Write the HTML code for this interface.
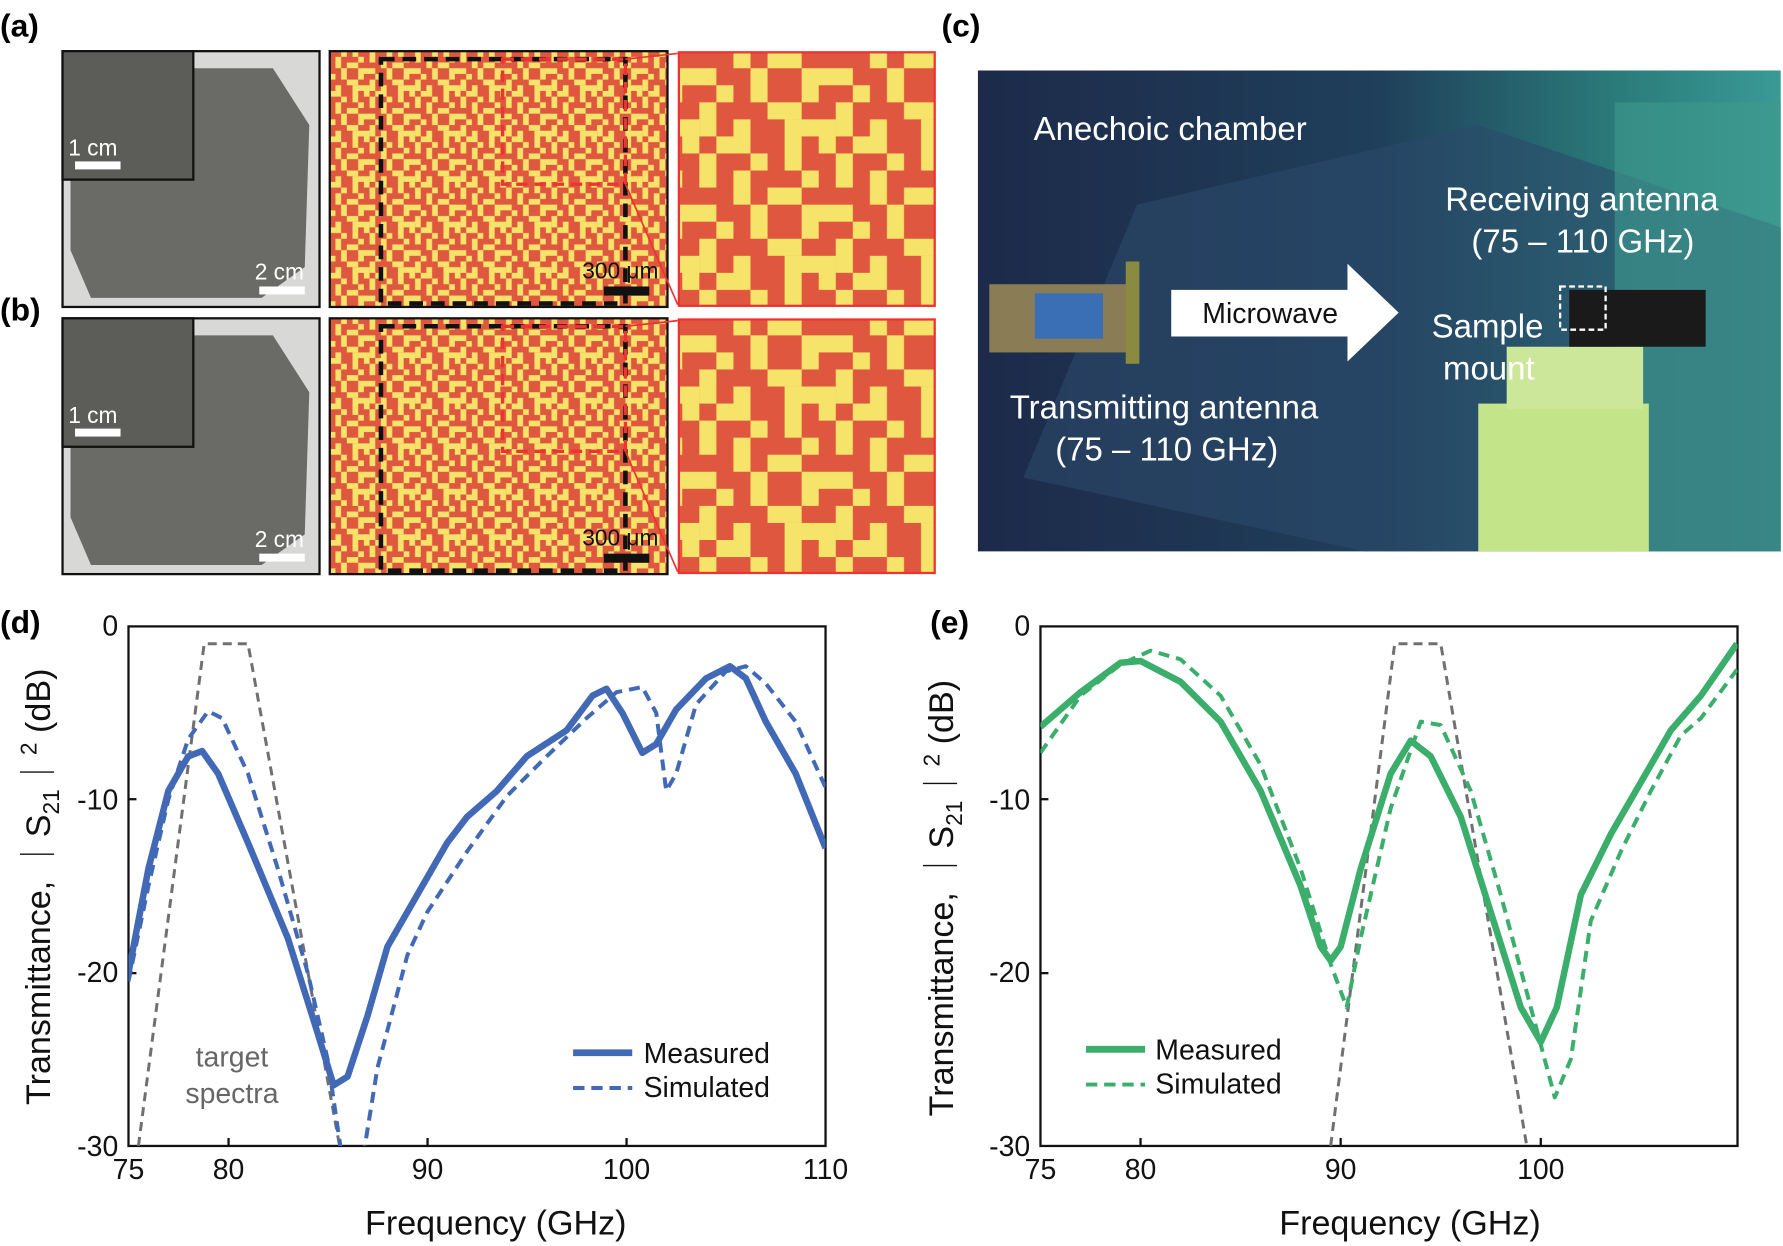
<!DOCTYPE html>
<html><head><meta charset="utf-8"><style>
html,body{margin:0;padding:0;background:#fff}
svg{display:block}
text{font-family:"Liberation Sans",sans-serif}
</style></head><body>
<svg width="1783" height="1246" viewBox="0 0 1568 1096" preserveAspectRatio="none" xmlns="http://www.w3.org/2000/svg">
<defs>
<pattern id="pm" width="40" height="40" patternUnits="userSpaceOnUse">
<rect width="40" height="40" fill="#e0573f"/>
<rect x="0" y="0" width="5" height="5" fill="#f6e46a"/><rect x="10" y="0" width="10" height="5" fill="#f6e46a"/><rect x="30" y="0" width="5" height="10" fill="#f6e46a"/>
<rect x="5" y="5" width="5" height="10" fill="#f6e46a"/><rect x="20" y="5" width="5" height="5" fill="#f6e46a"/><rect x="35" y="10" width="5" height="5" fill="#f6e46a"/>
<rect x="15" y="10" width="5" height="10" fill="#f6e46a"/><rect x="25" y="15" width="10" height="5" fill="#f6e46a"/><rect x="0" y="20" width="10" height="5" fill="#f6e46a"/>
<rect x="20" y="20" width="5" height="10" fill="#f6e46a"/><rect x="35" y="20" width="5" height="10" fill="#f6e46a"/><rect x="10" y="25" width="5" height="5" fill="#f6e46a"/>
<rect x="5" y="30" width="5" height="10" fill="#f6e46a"/><rect x="25" y="30" width="10" height="5" fill="#f6e46a"/><rect x="15" y="35" width="5" height="5" fill="#f6e46a"/>
<rect x="30" y="35" width="10" height="5" fill="#f6e46a"/><rect x="0" y="35" width="5" height="5" fill="#f6e46a"/>
</pattern>
<pattern id="pz" width="120" height="120" patternUnits="userSpaceOnUse">
<rect width="120" height="120" fill="#e0573f"/>
<rect x="0" y="0" width="15" height="15" fill="#f6e46a"/><rect x="30" y="0" width="30" height="15" fill="#f6e46a"/><rect x="90" y="0" width="15" height="30" fill="#f6e46a"/>
<rect x="15" y="15" width="15" height="30" fill="#f6e46a"/><rect x="60" y="15" width="15" height="15" fill="#f6e46a"/><rect x="105" y="30" width="15" height="15" fill="#f6e46a"/>
<rect x="45" y="30" width="15" height="30" fill="#f6e46a"/><rect x="75" y="45" width="30" height="15" fill="#f6e46a"/><rect x="0" y="60" width="30" height="15" fill="#f6e46a"/>
<rect x="60" y="60" width="15" height="30" fill="#f6e46a"/><rect x="105" y="60" width="15" height="30" fill="#f6e46a"/><rect x="30" y="75" width="15" height="15" fill="#f6e46a"/>
<rect x="15" y="90" width="15" height="30" fill="#f6e46a"/><rect x="75" y="90" width="30" height="15" fill="#f6e46a"/><rect x="45" y="105" width="15" height="15" fill="#f6e46a"/>
<rect x="90" y="105" width="30" height="15" fill="#f6e46a"/><rect x="0" y="105" width="15" height="15" fill="#f6e46a"/>
</pattern>
<linearGradient id="ch" x1="0" y1="0" x2="1" y2="0">
<stop offset="0" stop-color="#1d2a4a"/><stop offset="0.5" stop-color="#1f3f5a"/><stop offset="0.8" stop-color="#2a7c7a"/><stop offset="1" stop-color="#3a9a96"/>
</linearGradient>
<clipPath id="cd"><rect x="113" y="551" width="613" height="457"/></clipPath>
<clipPath id="ce"><rect x="915" y="551" width="613" height="457"/></clipPath>
</defs>

<g font-weight="bold" font-size="28">
<text x="0" y="32">(a)</text><text x="0" y="282">(b)</text><text x="828" y="32">(c)</text>
<text x="0" y="557">(d)</text><text x="818" y="557">(e)</text>
</g>

<g>
<rect x="55" y="45" width="226" height="225" fill="#d8d8d6" stroke="#111" stroke-width="2"/>
<polygon points="90,60 240,60 272,110 268,235 230,262 80,262 62,220 62,100" fill="#6a6a66"/>
<rect x="55" y="45" width="115" height="113" fill="#5c5c58" stroke="#111" stroke-width="2"/>
<rect x="66" y="142" width="40" height="7" fill="#fff"/><text x="60" y="137" font-size="20" fill="#fff">1 cm</text>
<rect x="228" y="252" width="40" height="7" fill="#fff"/><text x="224" y="246" font-size="20" fill="#fff">2 cm</text>
<rect x="290" y="45" width="297" height="225" fill="url(#pm)" stroke="#111" stroke-width="2"/>
<rect x="335" y="52" width="215" height="215" fill="none" stroke="#111" stroke-width="4" stroke-dasharray="12,7"/>
<rect x="442" y="52" width="108" height="110" fill="none" stroke="#e33" stroke-width="3" stroke-dasharray="10,6"/>
<rect x="531" y="252" width="40" height="8" fill="#111"/><text x="512" y="245" font-size="20" fill="#111">300 μm</text>
<line x1="550" y1="52" x2="596" y2="47" stroke="#e33" stroke-width="1.5"/><line x1="550" y1="162" x2="596" y2="268" stroke="#e33" stroke-width="1.5"/>
<rect x="597" y="46" width="225" height="223" fill="url(#pz)" stroke="#e33" stroke-width="2"/>
</g>
<g transform="translate(0,235)">
<rect x="55" y="45" width="226" height="225" fill="#d8d8d6" stroke="#111" stroke-width="2"/>
<polygon points="90,60 240,60 272,110 268,235 230,262 80,262 62,220 62,100" fill="#6a6a66"/>
<rect x="55" y="45" width="115" height="113" fill="#5c5c58" stroke="#111" stroke-width="2"/>
<rect x="66" y="142" width="40" height="7" fill="#fff"/><text x="60" y="137" font-size="20" fill="#fff">1 cm</text>
<rect x="228" y="252" width="40" height="7" fill="#fff"/><text x="224" y="246" font-size="20" fill="#fff">2 cm</text>
<rect x="290" y="45" width="297" height="225" fill="url(#pm)" stroke="#111" stroke-width="2"/>
<rect x="335" y="52" width="215" height="215" fill="none" stroke="#111" stroke-width="4" stroke-dasharray="12,7"/>
<rect x="442" y="52" width="108" height="110" fill="none" stroke="#e33" stroke-width="3" stroke-dasharray="10,6"/>
<rect x="531" y="252" width="40" height="8" fill="#111"/><text x="512" y="245" font-size="20" fill="#111">300 μm</text>
<line x1="550" y1="52" x2="596" y2="47" stroke="#e33" stroke-width="1.5"/><line x1="550" y1="162" x2="596" y2="268" stroke="#e33" stroke-width="1.5"/>
<rect x="597" y="46" width="225" height="223" fill="url(#pz)" stroke="#e33" stroke-width="2"/>
</g>

<rect x="860" y="62" width="706" height="423" fill="url(#ch)"/>
<polygon points="1000,180 1300,110 1566,200 1566,485 1200,485 900,420" fill="#2c4a6a" opacity="0.6"/>
<rect x="1420" y="90" width="146" height="395" fill="#3f9a8e" opacity="0.6"/>
<rect x="870" y="250" width="130" height="60" fill="#8a7d55"/><rect x="910" y="258" width="60" height="40" fill="#3a6fb5"/>
<rect x="990" y="230" width="12" height="90" fill="#8a8a40"/>
<rect x="1300" y="355" width="150" height="130" fill="#c4e48a"/><rect x="1325" y="305" width="120" height="55" fill="#cde79a"/>
<rect x="1380" y="255" width="120" height="50" fill="#1a1a1a"/>
<rect x="1372" y="252" width="40" height="38" fill="none" stroke="#fff" stroke-width="2" stroke-dasharray="5,3"/>
<polygon points="1030,255 1185,255 1185,232 1230,275 1185,318 1185,296 1030,296" fill="#fff"/>
<text x="1117" y="284" font-size="25" fill="#111" text-anchor="middle">Microwave</text>
<g font-size="29" fill="#fff">
<text x="909" y="123">Anechoic chamber</text>
<text x="1271" y="185">Receiving antenna</text>
<text x="1294" y="222">(75 – 110 GHz)</text>
<text x="1259" y="297">Sample</text><text x="1269" y="334">mount</text>
<text x="888" y="368">Transmitting antenna</text>
<text x="928" y="405">(75 – 110 GHz)</text>
</g>

<g font-size="25" fill="#111">
<rect x="113" y="551" width="613" height="457" fill="none" stroke="#111" stroke-width="2"/>
<g stroke="#111" stroke-width="2"><line x1="113" y1="703" x2="120" y2="703"/><line x1="113" y1="856" x2="120" y2="856"/>
<line x1="201" y1="1008" x2="201" y2="1001"/><line x1="376" y1="1008" x2="376" y2="1001"/><line x1="551" y1="1008" x2="551" y2="1001"/></g>
<g text-anchor="end"><text x="104" y="559">0</text><text x="104" y="712">-10</text><text x="104" y="864">-20</text><text x="104" y="1017">-30</text></g>
<g text-anchor="middle"><text x="113" y="1037">75</text><text x="201" y="1037">80</text><text x="376" y="1037">90</text><text x="551" y="1037">100</text><text x="726" y="1037">110</text></g>
<text x="436" y="1086" font-size="30" text-anchor="middle">Frequency (GHz)</text>
<text transform="translate(44,780) rotate(-90)" font-size="30" text-anchor="middle">Transmittance, ｜S<tspan font-size="20" dy="8">21</tspan><tspan dy="-8">｜</tspan><tspan font-size="20" dy="-12">2</tspan><tspan dy="12"> (dB)</tspan></text>
<text x="204" y="938" fill="#666" text-anchor="middle">target</text><text x="204" y="970" fill="#666" text-anchor="middle">spectra</text>
<line x1="504" y1="926" x2="556" y2="926" stroke="#4169b5" stroke-width="6"/><text x="566" y="935">Measured</text>
<line x1="504" y1="957" x2="556" y2="957" stroke="#4169b5" stroke-width="3.5" stroke-dasharray="10,6"/><text x="566" y="965">Simulated</text>
</g>
<g clip-path="url(#cd)">
<g transform="translate(-1200.55,551) scale(17.514,15.23)" fill="none" stroke-linejoin="round">
<polyline vector-effect="non-scaling-stroke" stroke="#707070" stroke-width="3" stroke-dasharray="9,6" points="75.5,30 78.8,1 81,1 85.6,30"/>
<polyline vector-effect="non-scaling-stroke" stroke="#4169b5" stroke-width="4" stroke-dasharray="11,7" points="75,20.5 76,15 77,10 78,6.5 79,4.9 79.7,5.3 81,8.5 82.5,14 84,20 85,25 85.7,30.5 86.8,30.5 87.5,25.5 89,19 90,16.5 92,13 94,9.8 96,7.5 98,5.3 99.5,3.8 100.8,3.5 101.5,5 102,9.5 102.5,8.5 103.5,4.5 105,2.6 106,2.3 107,3.3 108.5,5.5 110,9.3"/>
<polyline vector-effect="non-scaling-stroke" stroke="#4169b5" stroke-width="6.5" points="75,20 76,14 77,9.5 78,7.5 78.7,7.2 79.5,8.5 81,12.5 83,18 84.5,23.5 85.3,26.5 86,26 87,22.5 88,18.5 89.5,15.5 91,12.5 92,11 93.5,9.5 95,7.5 97,6 98.3,4 99,3.6 99.8,5 100.8,7.3 101.5,6.8 102.5,4.8 104,3 105.2,2.3 106,3 107,5.5 108.5,8.5 110,12.8"/>
</g></g>

<g font-size="25" fill="#111">
<rect x="915" y="551" width="613" height="457" fill="none" stroke="#111" stroke-width="2"/>
<g stroke="#111" stroke-width="2"><line x1="915" y1="703" x2="922" y2="703"/><line x1="915" y1="856" x2="922" y2="856"/>
<line x1="1003" y1="1008" x2="1003" y2="1001"/><line x1="1179" y1="1008" x2="1179" y2="1001"/><line x1="1355" y1="1008" x2="1355" y2="1001"/></g>
<g text-anchor="end"><text x="906" y="559">0</text><text x="906" y="712">-10</text><text x="906" y="864">-20</text><text x="906" y="1017">-30</text></g>
<g text-anchor="middle"><text x="915" y="1037">75</text><text x="1003" y="1037">80</text><text x="1179" y="1037">90</text><text x="1355" y="1037">100</text></g>
<text x="1240" y="1086" font-size="30" text-anchor="middle">Frequency (GHz)</text>
<text transform="translate(838,790) rotate(-90)" font-size="30" text-anchor="middle">Transmittance, ｜S<tspan font-size="20" dy="8">21</tspan><tspan dy="-8">｜</tspan><tspan font-size="20" dy="-12">2</tspan><tspan dy="12"> (dB)</tspan></text>
<line x1="955" y1="923" x2="1007" y2="923" stroke="#3aae6a" stroke-width="6"/><text x="1016" y="932">Measured</text>
<line x1="955" y1="954" x2="1007" y2="954" stroke="#3aae6a" stroke-width="3.5" stroke-dasharray="10,6"/><text x="1016" y="962">Simulated</text>
</g>
<g clip-path="url(#ce)">
<g transform="translate(-405,551) scale(17.6,15.23)" fill="none" stroke-linejoin="round">
<polyline vector-effect="non-scaling-stroke" stroke="#707070" stroke-width="3" stroke-dasharray="9,6" points="89.5,30 92.7,1 95,1 99.3,30"/>
<polyline vector-effect="non-scaling-stroke" stroke="#3aae6a" stroke-width="4" stroke-dasharray="11,7" points="75,7.3 77,4 79,2.2 80.5,1.4 82,1.9 84,4 86,8 88,14 89.5,19.5 90.3,22 91,18 92.5,10.5 94,5.5 95,5.7 96.5,9.5 98,15.5 99.5,22 100.7,27.2 101.5,25 102.5,17 104,13 105.5,9.5 107,6.3 108,5.3 109.8,2.5"/>
<polyline vector-effect="non-scaling-stroke" stroke="#3aae6a" stroke-width="6.5" points="75,5.8 77,3.8 79,2.1 80,2 82,3.2 84,5.5 86,9.5 88,15 89,18.5 89.5,19.3 90,18.5 91,14 92.5,8.5 93.5,6.6 94.5,7.5 96,11 97.5,16.5 99,22 100,24 100.8,22 102,15.5 103.5,12 105,9 106.5,6 108,4 109.8,1"/>
</g></g>
</svg>
</body></html>
